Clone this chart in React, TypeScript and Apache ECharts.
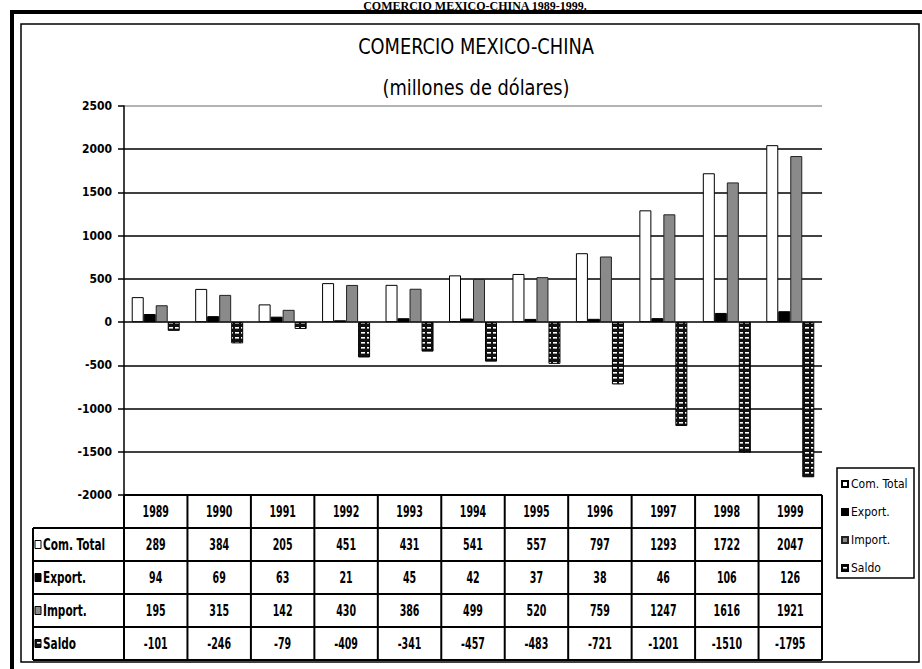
import React, { useEffect, useRef } from 'react';
import * as echarts from 'echarts';

const years = ['1989', '1990', '1991', '1992', '1993', '1994', '1995', '1996', '1997', '1998', '1999'];
const comTotal = [289, 384, 205, 451, 431, 541, 557, 797, 1293, 1722, 2047];
const exportVals = [94, 69, 63, 21, 45, 42, 37, 38, 46, 106, 126];
const importVals = [195, 315, 142, 430, 386, 499, 520, 759, 1247, 1616, 1921];
const saldoVals = [-101, -246, -79, -409, -341, -457, -483, -721, -1201, -1510, -1795];
const seriesNames = ['Com. Total', 'Export.', 'Import.', 'Saldo'];
const yMin = -2000;
const yMax = 2500;
const yInterval = 500;
const titleText = 'COMERCIO MEXICO-CHINA';
const subtitleText = '(millones de dólares)';
const captionText = 'COMERCIO MEXICO-CHINA 1989-1999.';

const NARROW = '"Liberation Sans Narrow", "DejaVu Sans Condensed", "Arial Narrow", sans-serif';

// layout
const GRID_L = 124;
const GRID_T = 106;
const GRID_W = 698;
const GRID_H = 389;
const TABLE_TOP = GRID_T + GRID_H;
const ROW_H = 33;
const HEAD_L = 33;

function makeSaldoPattern(): HTMLCanvasElement {
  const c = document.createElement('canvas');
  c.width = 6;
  c.height = 5;
  const ctx = c.getContext('2d')!;
  ctx.fillStyle = '#111';
  ctx.fillRect(0, 0, 6, 5);
  ctx.fillStyle = '#fff';
  ctx.fillRect(1, 2, 4, 1.6);
  return c;
}

export default function App() {
  const ref = useRef<HTMLDivElement>(null);
  useEffect(() => {
    if (!ref.current) return;
    const chart = echarts.init(ref.current, undefined, { renderer: 'svg' });
    const pattern = { image: makeSaldoPattern(), repeat: 'repeat' };
    const styles = [
      { color: '#fff', borderColor: '#000', borderWidth: 1 },
      { color: '#000', borderColor: '#000', borderWidth: 1 },
      { color: '#8a8a8a', borderColor: '#222', borderWidth: 1 },
      { color: pattern, borderColor: '#000', borderWidth: 1 },
    ];
    const dataSets = [comTotal, exportVals, importVals, saldoVals];
    const colW = GRID_W / years.length;
    const rowsTop = TABLE_TOP + ROW_H;
    const tableBottom = TABLE_TOP + ROW_H * 5;
    const lineStyle = { stroke: '#000', lineWidth: 2 };
    const graphics: any[] = [];

    // frames
    graphics.push({ type: 'rect', shape: { x: 12, y: 12, width: 920, height: 660 }, style: { fill: 'none', stroke: '#000', lineWidth: 4 }, silent: true });
    graphics.push({ type: 'rect', shape: { x: 21, y: 24, width: 898, height: 638 }, style: { fill: 'none', stroke: '#000', lineWidth: 1.5 }, silent: true });
    graphics.push({ type: 'text', x: 475, y: 0, style: { text: captionText, font: 'bold 12px "Liberation Serif", "Times New Roman", serif', fill: '#000', textAlign: 'center', textVerticalAlign: 'top' }, silent: true });

    // titles
    graphics.push({ type: 'text', x: 476, y: 47, scaleX: 0.9, style: { text: titleText, font: `22px ${NARROW}`, fill: '#000', textAlign: 'center', textVerticalAlign: 'middle' } });
    graphics.push({ type: 'text', x: 476, y: 88, scaleX: 0.9, style: { text: subtitleText, font: `22px ${NARROW}`, fill: '#000', textAlign: 'center', textVerticalAlign: 'middle' } });

    // table horizontal lines
    graphics.push({ type: 'line', shape: { x1: GRID_L, y1: TABLE_TOP, x2: GRID_L + GRID_W, y2: TABLE_TOP }, style: lineStyle });
    for (let r = 1; r <= 5; r++) {
      const y = TABLE_TOP + r * ROW_H;
      graphics.push({ type: 'line', shape: { x1: HEAD_L, y1: y, x2: GRID_L + GRID_W, y2: y }, style: lineStyle });
    }
    // vertical lines
    graphics.push({ type: 'line', shape: { x1: HEAD_L, y1: rowsTop, x2: HEAD_L, y2: tableBottom }, style: lineStyle });
    for (let i = 0; i <= years.length; i++) {
      const x = GRID_L + i * colW;
      graphics.push({ type: 'line', shape: { x1: x, y1: TABLE_TOP, x2: x, y2: tableBottom }, style: lineStyle });
    }
    const cellFont = `bold 16px ${NARROW}`;
    const cellScale = 0.66;
    years.forEach((yr, i) => {
      graphics.push({ type: 'text', x: GRID_L + (i + 0.5) * colW, y: TABLE_TOP + ROW_H / 2, scaleX: cellScale, style: { text: yr, font: cellFont, fill: '#000', textAlign: 'center', textVerticalAlign: 'middle' } });
    });
    dataSets.forEach((vals, s) => {
      const cy = rowsTop + (s + 0.5) * ROW_H;
      vals.forEach((v, i) => {
        graphics.push({ type: 'text', x: GRID_L + (i + 0.5) * colW, y: cy, scaleX: cellScale, style: { text: String(v), font: cellFont, fill: '#000', textAlign: 'center', textVerticalAlign: 'middle' } });
      });
      const st = styles[s];
      graphics.push({ type: 'rect', shape: { x: 35, y: cy - 4, width: 6, height: 8 }, style: { fill: st.color as any, stroke: '#000', lineWidth: 1 } });
      graphics.push({ type: 'text', x: 43, y: cy, scaleX: 0.78, style: { text: seriesNames[s], font: `bold 15px ${NARROW}`, fill: '#000', textAlign: 'left', textVerticalAlign: 'middle' } });
    });
    // legend box
    graphics.push({ type: 'rect', shape: { x: 837, y: 468, width: 77, height: 110 }, style: { fill: '#fff', stroke: '#000', lineWidth: 1.5 }, z: -1 });

    const splitColors = [] as string[];
    for (let v = yMin; v <= yMax; v += yInterval) splitColors.push(v === yMax ? '#9a9a9a' : '#000');

    chart.setOption({
      animation: false,
      backgroundColor: '#fff',
      grid: { left: GRID_L, top: GRID_T, width: GRID_W, height: GRID_H },
      legend: {
        orient: 'vertical',
        left: 841,
        top: 477,
        padding: 0,
        itemWidth: 6,
        itemHeight: 6,
        itemGap: 14,
        icon: 'rect',
        data: seriesNames,
        textStyle: { fontFamily: NARROW, fontSize: 12, lineHeight: 14, color: '#000', padding: [0, 0, 0, -2] },
      },
      xAxis: {
        type: 'category',
        data: years,
        axisLine: { show: false },
        axisTick: { show: false },
        axisLabel: { show: false },
      },
      yAxis: {
        type: 'value',
        min: yMin,
        max: yMax,
        interval: yInterval,
        axisLine: { show: true, lineStyle: { color: '#000', width: 1.5 } },
        axisTick: { show: true, length: 6, lineStyle: { color: '#000', width: 1.5 } },
        axisLabel: { color: '#000', fontFamily: NARROW, fontWeight: 'bold', fontSize: 12, margin: 12, formatter: (v: number) => String(v) },
        splitLine: { show: true, lineStyle: { color: splitColors, width: 1.6 } },
      },
      series: dataSets.map((vals, s) => ({
        name: seriesNames[s],
        type: 'bar',
        data: vals,
        barWidth: 12,
        barGap: '0%',
        itemStyle: styles[s],
        emphasis: { disabled: true },
      })),
      graphic: graphics,
    });
    return () => chart.dispose();
  }, []);
  return <div ref={ref} style={{ position: 'fixed', left: 0, top: 0, width: 922, height: 669 }} />;
}
